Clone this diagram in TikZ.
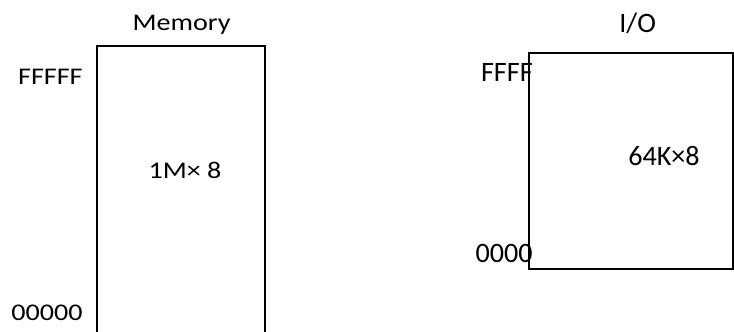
\documentclass[tikz,border=0pt]{standalone}
\usepackage{fontspec}
\setmainfont{Carlito}
\usetikzlibrary{positioning}

\begin{document}
\begin{tikzpicture}[
    font=\fontsize{20}{24}\selectfont,
    region/.style={draw=black, line width=1.3pt},
    addr/.style={anchor=east, inner sep=0pt},
    squat/.style={yscale=0.85, transform shape}
  ]
    \useasboundingbox (0,0) rectangle (18.35,8.275);
    % memory space (runs off the bottom of the page)
    \draw[region] (2.425,-0.3) rectangle (6.625,7.125);
    \node[squat, anchor=base] (memtitle) at (4.54,7.51) {Memory};
    \node[squat, addr] (memtop) at (2.075,6.36) {FFFFF};
    \node[squat, addr] (membot) at (2.075,0.45) {00000};
    \node[squat] (memsize) at (4.625,4.01) {1M\texttimes{} 8};
    % I/O space
    \draw[region] (13.225,1.55) rectangle (18.325,6.95);
    \node[anchor=base] (iotitle) at (15.94,7.46) {I/O};
    \node[addr] (iotop) at (13.325,6.46) {FFFF};
    \node[addr] (iobot) at (13.325,1.95) {0000};
    \node (iosize) at (16.6,4.375) {64K\texttimes8};
  \end{tikzpicture}
\end{document}
